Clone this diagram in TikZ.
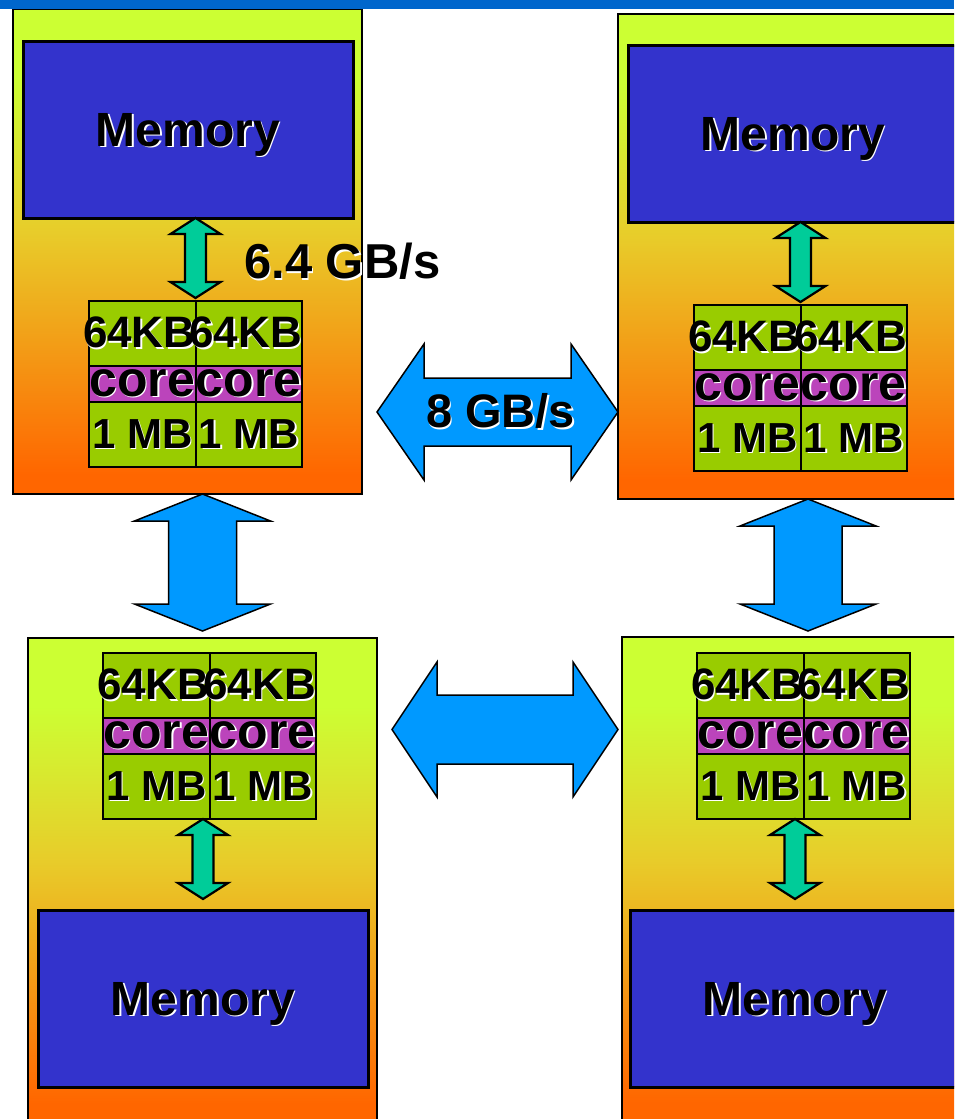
\documentclass[tikz,border=0pt]{standalone}
\usepackage{fontspec}
\setmainfont{Liberation Sans}
\usepackage{tikz}
\usetikzlibrary{positioning,calc}

\definecolor{memblue}{RGB}{51,51,204}
\definecolor{cachegreen}{RGB}{153,204,0}
\definecolor{corepurple}{RGB}{187,68,187}
\definecolor{linkblue}{RGB}{0,153,255}
\definecolor{busgreen}{RGB}{0,204,153}
\definecolor{barblue}{RGB}{0,102,204}
\definecolor{lime}{RGB}{204,255,51}
\definecolor{gold}{RGB}{232,204,42}
\definecolor{orng}{RGB}{255,102,0}

\pgfdeclareverticalshading{boardshade}{100bp}{color(0bp)=(orng); color(27bp)=(orng); color(52bp)=(gold); color(68bp)=(lime); color(100bp)=(lime)}

% white drop shadow behind black text
\newcommand{\shtext}[1]{\rlap{\kern1.5pt\raisebox{-1.5pt}{\color{white}#1}}#1}

% one dual core chip, #1 prefix, (#2,#3) top left corner
\newcommand{\chip}[3]{%
  \node[l1, anchor=north west] (#1a) at (#2,#3) {};
  \node[l1, right=0pt of #1a] (#1b) {};
  \node[corecell, below=0pt of #1a] (#1ca) {};
  \node[corecell, below=0pt of #1b] (#1cb) {};
  \node[l2, below=0pt of #1ca] (#1la) {};
  \node[l2, below=0pt of #1cb] (#1lb) {};
  \foreach \side in {a,b} {
    \node[cachetxt] at ([xshift=-3pt]#1\side) {\shtext{64KB}};
    \node[coretxt] at (#1c\side) {\shtext{core}};
    \node[l2txt] at (#1l\side) {\shtext{1 MB}};
  }}

% vertical double arrow: style, top tip, bottom tip, shaft half, head half, head length
\newcommand{\vdbl}[6]{%
  \draw[#1] (#2) -- ($(#2)+(#5,#6)$) -- ($(#2)+(#4,#6)$) -- ($(#3)+(#4,-#6)$) -- ($(#3)+(#5,-#6)$) -- (#3)
    -- ($(#3)+(-#5,-#6)$) -- ($(#3)+(-#4,-#6)$) -- ($(#2)+(-#4,#6)$) -- ($(#2)+(-#5,#6)$) -- cycle;}
% horizontal double arrow: style, left tip, right tip, shaft half, head half, head length
\newcommand{\hdbl}[6]{%
  \draw[#1] (#2) -- ($(#2)+(#6,-#5)$) -- ($(#2)+(#6,-#4)$) -- ($(#3)+(-#6,-#4)$) -- ($(#3)+(-#6,-#5)$) -- (#3)
    -- ($(#3)+(-#6,#5)$) -- ($(#3)+(-#6,#4)$) -- ($(#2)+(#6,#4)$) -- ($(#2)+(#6,#5)$) -- cycle;}

\begin{document}
\begin{tikzpicture}[x=1pt, y=-1pt,
  board/.style={draw=black, line width=1.5pt, shade, shading=boardshade, minimum width=349pt, minimum height=485pt, inner sep=0pt, outer sep=0pt, anchor=north west},
  mem/.style={draw=black, line width=3pt, fill=memblue, minimum width=330pt, minimum height=177pt, inner sep=0pt, outer sep=0pt, anchor=north west, text depth=0pt, font=\bfseries\fontsize{48}{50}\selectfont},
  l1/.style={draw=black, line width=2pt, fill=cachegreen, minimum width=106.5pt, minimum height=65pt, inner sep=0pt, outer sep=0pt},
  corecell/.style={draw=black, line width=2pt, fill=corepurple, minimum width=106.5pt, minimum height=36pt, inner sep=0pt, outer sep=0pt},
  l2/.style={draw=black, line width=2pt, fill=cachegreen, minimum width=106.5pt, minimum height=65pt, inner sep=0pt, outer sep=0pt},
  cachetxt/.style={inner sep=0pt, font=\bfseries\fontsize{44}{46}\selectfont},
  coretxt/.style={inner sep=0pt, font=\bfseries\fontsize{50}{52}\selectfont},
  l2txt/.style={inner sep=0pt, font=\bfseries\fontsize{42}{44}\selectfont},
  bwtxt/.style={inner sep=0pt, font=\bfseries\fontsize{49}{51}\selectfont},
  busarrow/.style={draw=black, line width=2.2pt, line join=miter, fill=busgreen},
  linkarrow/.style={draw=black, line width=1.5pt, line join=miter, fill=linkblue}]
  \useasboundingbox (0,0) rectangle (954,1119);
  \clip (0,0) rectangle (954,1119);

  %% the four boards
  \node[board] (board1) at (13,9) {};
  \node[board] (board2) at (618,14) {};
  \node[board] (board3) at (28,638) {};
  \node[board] (board4) at (622,637) {};

  %% memories
  \node[mem] (mem1) at (23,41) {\shtext{Memory}};
  \node[mem] (mem2) at (628,45) {\shtext{Memory}};
  \node[mem] (mem3) at (38,910) {\shtext{Memory}};
  \node[mem] (mem4) at (630,910) {\shtext{Memory}};

  %% chips
  \chip{p1}{89}{301}
  \chip{p2}{694}{305}
  \chip{p3}{103}{653}
  \chip{p4}{697}{653}

  %% memory buses
  \coordinate (g1a) at (p1a.north east |- mem1.south);
  \coordinate (g1b) at ([yshift=3pt]p1a.north east);
  \coordinate (g2a) at (p2a.north east |- mem2.south);
  \coordinate (g2b) at ([yshift=3pt]p2a.north east);
  \coordinate (g3a) at (mem3.north |- p3la.south);
  \coordinate (g3b) at ([yshift=11pt]mem3.north);
  \coordinate (g4a) at (mem4.north |- p4la.south);
  \coordinate (g4b) at ([yshift=11pt]mem4.north);
  \foreach \i in {1,...,4} {
    \vdbl{busarrow}{g\i a}{g\i b}{10.5}{25}{16}
  }
  \node[bwtxt, anchor=west] (bw1) at (244,262) {\shtext{6.4 GB/s}};

  %% links between boards
  \coordinate (v1b) at ([yshift=7pt]board3.north);
  \coordinate (v1a) at (v1b |- board1.south);
  \coordinate (v2b) at ([xshift=11.5pt,yshift=6pt]board4.north);
  \coordinate (v2a) at (v2b |- board2.south);
  \vdbl{linkarrow}{v1a}{v1b}{34}{68}{27}
  \vdbl{linkarrow}{v2a}{v2b}{34}{68}{27}
  \coordinate (h1a) at ([xshift=15pt,yshift=-160.5pt]board1.east);
  \coordinate (h1b) at (board2.west |- h1a);
  \coordinate (h2a) at ([xshift=15pt,yshift=-91.5pt]board3.north east);
  \coordinate (h2b) at ($(board4.west |- h2a)+(-4,0)$);
  \hdbl{linkarrow}{h1a}{h1b}{34}{68}{47}
  \hdbl{linkarrow}{h2a}{h2b}{34.5}{67.5}{45}
  \node[bwtxt, font=\bfseries\fontsize{47}{49}\selectfont] (bw2) at ([xshift=3pt]$(h1a)!0.5!(h1b)$) {\shtext{8 GB/s}};

  % title bar
  \fill[barblue] (0,0) rectangle (954,8.5);
\end{tikzpicture}
\end{document}
